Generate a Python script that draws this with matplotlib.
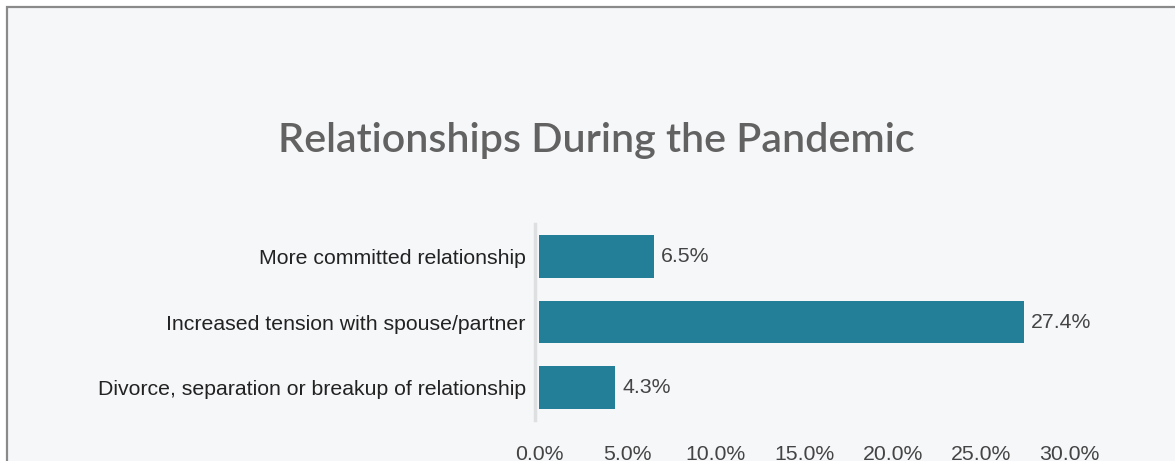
import matplotlib
matplotlib.use('Agg')
import matplotlib.pyplot as plt
from matplotlib.patches import Rectangle

categories = ["More committed relationship",
              "Increased tension with spouse/partner",
              "Divorce, separation or breakup of relationship"]
values = [6.5, 27.4, 4.3]
xticks = [0, 5, 10, 15, 20, 25, 30]
title = "Relationships During the Pandemic"

W, H = 1175, 461
fig = plt.figure(figsize=(W / 100, H / 100), dpi=100)
fig.patch.set_facecolor('white')

# panel with grey border on left/top (right and bottom run off the image)
fig.patches.append(Rectangle((7 / W, -0.1), 1.2, 1 - 7 / H + 0.1,
                             transform=fig.transFigure, facecolor='#f6f7f9',
                             edgecolor='#8a8a8a', lw=1.6, zorder=-5))

ax = fig.add_axes([539 / W, (H - 420.25) / H, (1069.8 - 539) / W, 196.5 / H])
ax.set_facecolor('none')
# spine position first: setting it later resets the tick labels
for s in ['top', 'right', 'bottom']:
    ax.spines[s].set_visible(False)
ax.spines['left'].set_color('#dedfe1')
ax.spines['left'].set_linewidth(2.5)
ax.spines['left'].set_position(('outward', 3))

fs = 15.3
ypos = list(range(len(categories)))
ax.barh(ypos, values, height=0.656, color='#237f97')
for y, v in zip(ypos, values):
    ax.annotate(f"{v:.1f}%", (v, y), xytext=(5, 0), textcoords='offset points',
                va='center', ha='left', fontsize=fs,
                color='#444444', family='Liberation Sans')

ax.set_xlim(0, 30)
ax.set_ylim(2.5, -0.5)
ax.set_yticks(ypos)
ax.set_yticklabels(categories, fontsize=fs, color='#222222', family='Liberation Sans')
ax.set_xticks(xticks)
ax.set_xticklabels([f"{t:.1f}%" for t in xticks], fontsize=fs, color='#444444',
                   family='Liberation Sans')
ax.tick_params(axis='y', length=0, pad=6.5)
ax.tick_params(axis='x', length=0, pad=18)

fig.text(596.5 / W, (H - 140) / H, title, ha='center', va='center',
         fontsize=29.7, color='#626262', family='Lato', weight='semibold')

fig.savefig('out.png', dpi=100)
